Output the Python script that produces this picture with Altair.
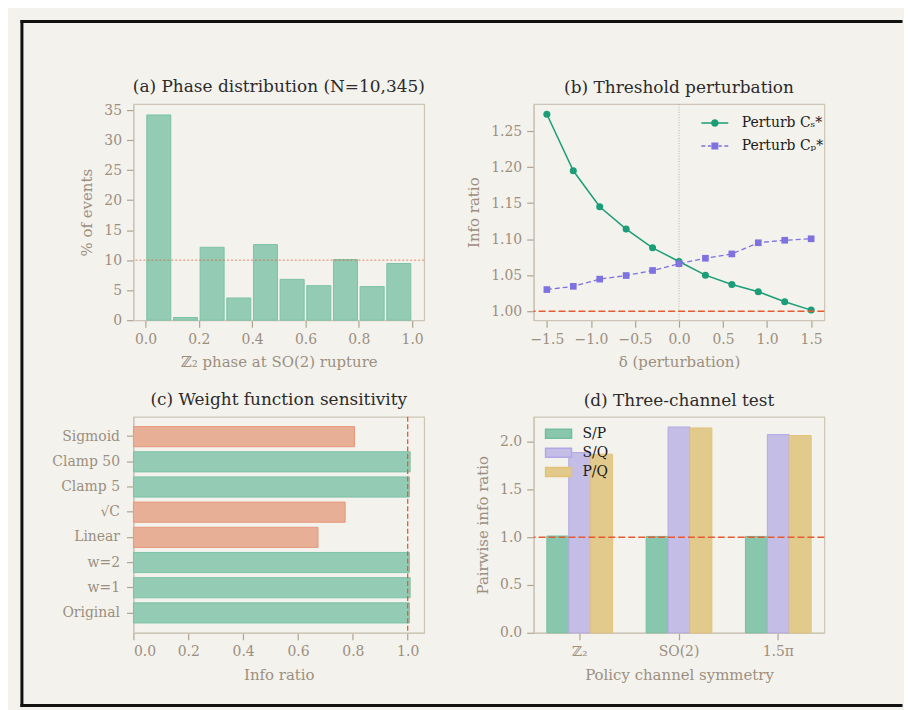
import altair as alt
import pandas as pd

# ---------------- data ----------------
phase_bins = [0.0, 0.1, 0.2, 0.3, 0.4, 0.5, 0.6, 0.7, 0.8, 0.9]
phase_pct = [34.2, 0.45, 12.15, 3.7, 12.6, 6.8, 5.75, 10.1, 5.6, 9.45]

delta = [-1.5, -1.2, -0.9, -0.6, -0.3, 0.0, 0.3, 0.6, 0.9, 1.2, 1.5]
perturb_cs = [1.2735, 1.195, 1.145, 1.114, 1.088, 1.069, 1.050, 1.037, 1.027, 1.013, 1.0015]
perturb_cp = [1.030, 1.0345, 1.0445, 1.0495, 1.0565, 1.066, 1.0735, 1.0795, 1.095, 1.0985, 1.1005]
series_names = ["Perturb C\u209b*", "Perturb C\u209a*"]

weight_names = ["Original", "w=1", "w=2", "Linear", "\u221aC", "Clamp 5", "Clamp 50", "Sigmoid"]
weight_ratio = [1.006, 1.009, 1.006, 0.673, 0.772, 1.006, 1.009, 0.806]

symmetries = ["\u2124\u2082", "SO(2)", "1.5\u03c0"]
pairs = ["S/P", "S/Q", "P/Q"]
ratio_sp = [1.012, 1.008, 1.008]
ratio_sq = [1.885, 2.153, 2.073]
ratio_pq = [1.868, 2.143, 2.063]

ticks_a_x = [0.0, 0.2, 0.4, 0.6, 0.8, 1.0]
ticks_a_y = [0, 5, 10, 15, 20, 25, 30, 35]
ticks_b_x = [-1.5, -1.0, -0.5, 0.0, 0.5, 1.0, 1.5]
ticks_b_y = [1.0, 1.05, 1.10, 1.15, 1.20, 1.25]
ticks_c_x = [0.0, 0.2, 0.4, 0.6, 0.8, 1.0]
ticks_d_y = [0.0, 0.5, 1.0, 1.5, 2.0]

# ---------------- style ----------------
BG = "#f4f2ed"
GREEN_FILL, GREEN_EDGE = "#93cbb5", "#7cc2a6"
ORANGE_FILL, ORANGE_EDGE = "#e8af97", "#e8977a"
G_LINE = "#1b9e77"
PURPLE = "#7d72e0"
RED = "#e65a32"
D_COLORS = ["#88c7ad", "#c4bde6", "#e2ca8d"]
D_EDGES = ["#74bd9f", "#b2a8e4", "#e3c27a"]
SPINE = "#cdc5b7"
TICK = "#aea393"
LBL = "#9b8f80"
FONT = "DejaVu Serif"
TITLE_OFFSET = 7

one = pd.DataFrame({"k": [0]})

# ---------------- (a) ----------------
ax_a_x = alt.Axis(values=ticks_a_x, format=".1f", title="\u2124\u2082 phase at SO(2) rupture")
ax_a_y = alt.Axis(values=ticks_a_y, title="% of events", labelOverlap=False)
sc_a_x = alt.Scale(domain=[-0.045, 1.045], nice=False, zero=False)
sc_a_y = alt.Scale(domain=[0, 36], nice=False)

df_a = pd.DataFrame({"bin": phase_bins, "pct": phase_pct})
bars_a = alt.Chart(df_a).transform_calculate(
    x0="datum.bin + 0.005", x1="datum.bin + 0.095"
).mark_bar(fill=GREEN_FILL, stroke=GREEN_EDGE, strokeWidth=1).encode(
    x=alt.X("x0:Q", scale=sc_a_x, axis=ax_a_x),
    x2="x1:Q",
    y=alt.Y("pct:Q", scale=sc_a_y, axis=ax_a_y),
    y2=alt.datum(0),
)
ref_a = alt.Chart(one).mark_rule(color=RED, strokeDash=[2, 2], strokeWidth=1, opacity=0.75).encode(
    y=alt.YDatum(10, axis=ax_a_y, scale=sc_a_y))

frame_kw = dict(color="#111111", strokeWidth=3, strokeCap="square")
frame_left = alt.Chart(one).mark_rule(**frame_kw).encode(
    x=alt.value(-112), y=alt.value(-83), y2=alt.value(604))
frame_top = alt.Chart(one).mark_rule(**frame_kw).encode(
    x=alt.value(-112), x2=alt.value(771), y=alt.value(-83))
frame_bottom = alt.Chart(one).mark_rule(**frame_kw).encode(
    x=alt.value(-112), x2=alt.value(771), y=alt.value(604))

panel_a = alt.layer(bars_a, ref_a, frame_left, frame_top, frame_bottom).properties(
    width=292, height=217,
    title=alt.TitleParams("(a) Phase distribution (N=10,345)", offset=TITLE_OFFSET - 84))

# ---------------- (b) ----------------
df_b = pd.DataFrame({
    "delta": delta + delta,
    "ratio": perturb_cs + perturb_cp,
    "series": [series_names[0]] * len(delta) + [series_names[1]] * len(delta),
})
ax_b_x = alt.Axis(values=ticks_b_x, format=".1f", title="\u03b4 (perturbation)")
ax_b_y = alt.Axis(values=ticks_b_y, format=".2f", title="Info ratio")
sc_b_x = alt.Scale(domain=[-1.65, 1.65], nice=False, zero=False)
sc_b_y = alt.Scale(domain=[0.9875, 1.2875], nice=False, zero=False)
xb = alt.X("delta:Q", scale=sc_b_x, axis=ax_b_x)
yb = alt.Y("ratio:Q", scale=sc_b_y, axis=ax_b_y)

vline_b = alt.Chart(one).mark_rule(color="#a8a196", strokeDash=[1, 1.6], strokeWidth=0.8).encode(
    x=alt.XDatum(0, axis=ax_b_x, scale=sc_b_x))
hline_b = alt.Chart(one).mark_rule(color=RED, strokeDash=[7, 3], strokeWidth=1.6).encode(
    y=alt.YDatum(1.0, axis=ax_b_y, scale=sc_b_y))
base_b = alt.Chart(df_b)
line_s = base_b.transform_filter(alt.datum.series == series_names[0]).mark_line(
    color=G_LINE, strokeWidth=1.5).encode(x=xb, y=yb)
pts_s = base_b.transform_filter(alt.datum.series == series_names[0]).mark_point(
    filled=True, shape="circle", size=50, color=G_LINE, opacity=1).encode(x=xb, y=yb)
line_p = base_b.transform_filter(alt.datum.series == series_names[1]).mark_line(
    color=PURPLE, strokeWidth=1.3, strokeDash=[5, 3]).encode(x=xb, y=yb)
pts_p = base_b.transform_filter(alt.datum.series == series_names[1]).mark_point(
    filled=True, shape="square", size=45, color=PURPLE, opacity=1).encode(x=xb, y=yb)

path_s = ("M-1.93,-0.107H1.93V0.107H-1.93Z"
          "M-0.54,0A0.54,0.54,0,1,1,0.54,0A0.54,0.54,0,1,1,-0.54,0Z")
path_p = ("M-1.93,-0.1H-1.36V0.1H-1.93Z"
          "M-1.0,-0.1H-0.55V0.1H-1.0Z"
          "M-0.5,-0.5H0.5V0.5H-0.5Z"
          "M0.55,-0.1H1.0V0.1H0.55Z"
          "M1.36,-0.1H1.93V0.1H1.36Z")
leg_b = alt.Legend(title=None, orient="none", legendX=174, legendY=11, symbolSize=196,
                   labelOffset=19, rowPadding=8, padding=0, labelFontSize=14)
legend_layer_b = base_b.transform_filter("datum.ratio > 100").mark_point(
    filled=True, opacity=1).encode(
    shape=alt.Shape("series:N", scale=alt.Scale(domain=series_names, range=[path_s, path_p]),
                    legend=leg_b),
    color=alt.Color("series:N", scale=alt.Scale(domain=series_names, range=[G_LINE, PURPLE]),
                    legend=leg_b),
)

panel_b = alt.layer(line_s, line_p, pts_s, pts_p, vline_b, hline_b, legend_layer_b).properties(
    width=292, height=217,
    title=alt.TitleParams("(b) Threshold perturbation", offset=TITLE_OFFSET))

# ---------------- (c) ----------------
df_c = pd.DataFrame({"name": weight_names, "ratio": weight_ratio})
ax_c_x = alt.Axis(values=ticks_c_x, format=".1f", title="Info ratio")
sc_c_x = alt.Scale(domain=[0, 1.06], nice=False)
bars_c = alt.Chart(df_c).transform_calculate(
    status="datum.ratio >= 1 ? 'pass' : 'fail'"
).mark_bar(strokeWidth=1).encode(
    y=alt.Y("name:N", sort=list(reversed(weight_names)),
            scale=alt.Scale(paddingInner=0.2, paddingOuter=0.39),
            axis=alt.Axis(title=None, labelPadding=7)),
    x=alt.X("ratio:Q", scale=sc_c_x, axis=ax_c_x),
    fill=alt.Fill("status:N", scale=alt.Scale(domain=["pass", "fail"], range=[GREEN_FILL, ORANGE_FILL]),
                  legend=None),
    stroke=alt.Stroke("status:N", scale=alt.Scale(domain=["pass", "fail"], range=[GREEN_EDGE, ORANGE_EDGE]),
                      legend=None),
)
vline_c = alt.Chart(one).mark_rule(color=RED, strokeDash=[5, 2.5], strokeWidth=1.3).encode(
    x=alt.XDatum(1.0, axis=ax_c_x, scale=sc_c_x))
panel_c = alt.layer(bars_c, vline_c).properties(
    width=292, height=217,
    title=alt.TitleParams("(c) Weight function sensitivity", offset=TITLE_OFFSET))

# ---------------- (d) ----------------
df_d = pd.DataFrame({
    "sym": symmetries * 3,
    "ratio": ratio_sp + ratio_sq + ratio_pq,
    "pair": [pairs[0]] * 3 + [pairs[1]] * 3 + [pairs[2]] * 3,
})
ax_d_y = alt.Axis(values=ticks_d_y, format=".1f", title="Pairwise info ratio")
sc_d_y = alt.Scale(domain=[0, 2.26], nice=False)
path_rect = "M-1.45,-0.5H1.45V0.5H-1.45Z"
bars_d = alt.Chart(df_d).mark_bar(strokeWidth=1).encode(
    x=alt.X("sym:N", sort=symmetries, scale=alt.Scale(paddingInner=0.338, paddingOuter=0.133),
            axis=alt.Axis(labelAngle=0, title="Policy channel symmetry")),
    xOffset=alt.XOffset("pair:N", sort=pairs, scale=alt.Scale(paddingInner=0, paddingOuter=0)),
    y=alt.Y("ratio:Q", scale=sc_d_y, axis=ax_d_y),
    color=alt.Color("pair:N", sort=pairs, scale=alt.Scale(domain=pairs, range=D_COLORS),
                    legend=alt.Legend(title=None, orient="none", legendX=15, legendY=7,
                                      symbolType=path_rect, symbolSize=324, labelOffset=14,
                                      rowPadding=1.2, padding=0, labelFontSize=14)),
    stroke=alt.Stroke("pair:N", sort=pairs, scale=alt.Scale(domain=pairs, range=D_EDGES), legend=None),
)
hline_d = alt.Chart(one).mark_rule(color=RED, strokeDash=[7, 3], strokeWidth=1.6).encode(
    y=alt.YDatum(1.0, axis=ax_d_y, scale=sc_d_y))
panel_d = alt.layer(bars_d, hline_d).properties(
    width=292, height=217,
    title=alt.TitleParams("(d) Three-channel test", offset=TITLE_OFFSET))

# ---------------- assemble ----------------
chart = alt.concat(
    panel_a, panel_b, panel_c, panel_d,
    columns=2, spacing={"row": 97, "column": 110}, bounds="flush",
).resolve_scale(
    color="independent", shape="independent", fill="independent", stroke="independent",
    x="independent", y="independent", xOffset="independent",
).resolve_legend(
    color="independent", shape="independent", fill="independent", stroke="independent",
).properties(
    padding={"left": 11, "top": 9, "right": 0, "bottom": 2},
    background=BG,
).configure(
    font=FONT,
).configure_view(
    stroke=SPINE, strokeWidth=1.2,
).configure_axis(
    domainColor=SPINE, domainWidth=1.2, tickColor=TICK, tickWidth=1.2, tickSize=7,
    labelColor=LBL, labelFont=FONT, labelFontSize=14, labelPadding=5,
    titleColor=LBL, titleFont=FONT, titleFontSize=15, titleFontWeight="normal",
    titlePadding=9, grid=False,
).configure_title(
    font=FONT, fontSize=17, fontWeight="normal", color="#2b2b2b", anchor="middle",
    frame="group",
).configure_legend(
    labelFont=FONT, labelColor="#1a1a1a", labelFontSize=14,
)

chart.save("out.html", embed_options={"renderer": "svg", "actions": False})
